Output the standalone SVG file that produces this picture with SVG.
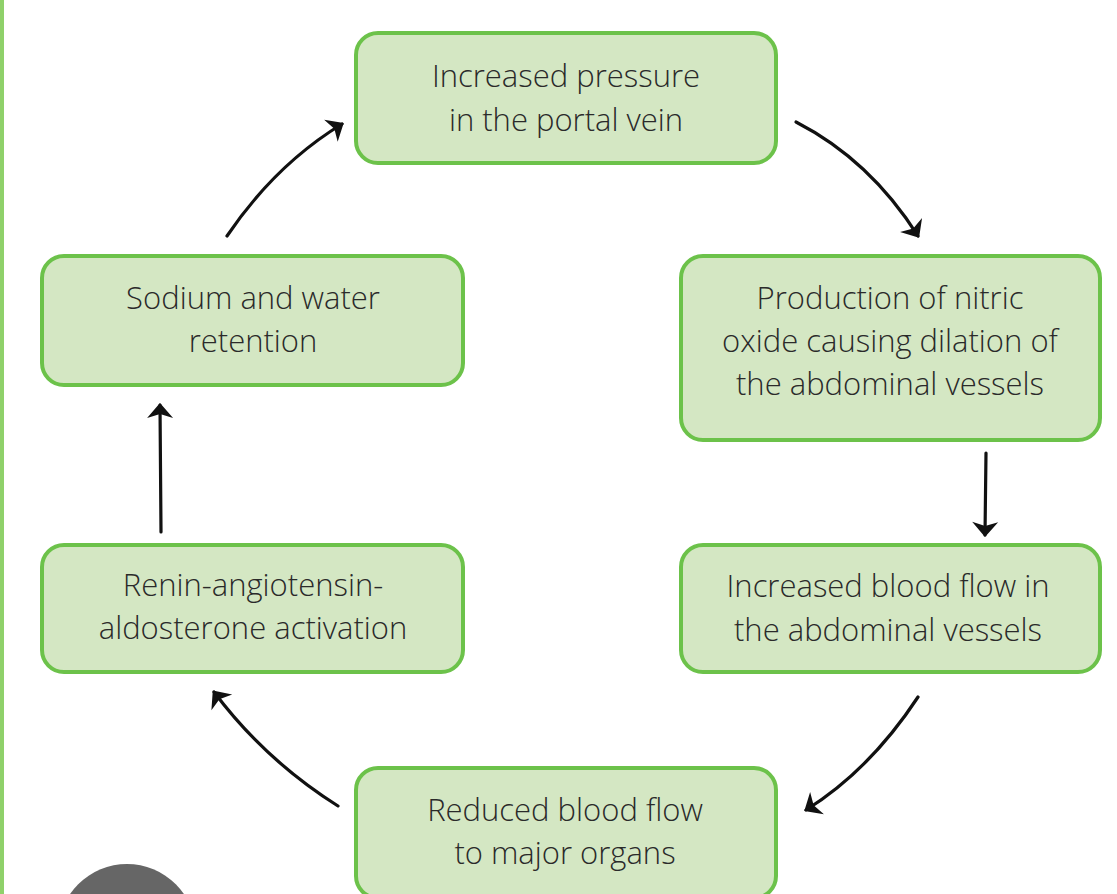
<svg xmlns="http://www.w3.org/2000/svg" width="1117" height="894" viewBox="0 0 1117 894">
<style>
.box{fill:#d4e7c3;stroke:#6cc24a;stroke-width:4}
.t{font-family:"Open Sans","Liberation Sans",sans-serif;font-size:31px;fill:#2a2a2a;text-anchor:middle;font-weight:300}
.c{fill:none;stroke:#111;stroke-width:3.2;stroke-linecap:round}
</style>
<defs>
<marker id="a" viewBox="0 0 24 28" refX="17" refY="14" markerWidth="24" markerHeight="28" markerUnits="userSpaceOnUse" orient="auto">
<path d="M4,1 L19,14 L4,27 L8,14 Z" fill="#111"/>
</marker>
</defs>
<rect x="0" y="0" width="4" height="894" fill="#8fd16a"/>
<circle cx="127" cy="933" r="69" fill="#666"/>
<g id="n1"><rect class="box" x="356" y="33" width="420" height="130" rx="22"/>
<text class="t" x="566" y="87">Increased pressure</text><text class="t" x="566" y="131">in the portal vein</text></g>
<g id="n2"><rect class="box" x="681" y="256" width="419" height="184" rx="22"/>
<text class="t" x="890" y="309">Production of nitric</text><text class="t" x="890" y="352">oxide causing dilation of</text><text class="t" x="890" y="395">the abdominal vessels</text></g>
<g id="n3"><rect class="box" x="681" y="545" width="419" height="127" rx="22"/>
<text class="t" x="888" y="597">Increased blood flow in</text><text class="t" x="888" y="641">the abdominal vessels</text></g>
<g id="n4"><rect class="box" x="356" y="768" width="420" height="130" rx="22"/>
<text class="t" x="565" y="821">Reduced blood flow</text><text class="t" x="565" y="864">to major organs</text></g>
<g id="n5"><rect class="box" x="42" y="545" width="421" height="127" rx="22"/>
<text class="t" x="253" y="596">Renin-angiotensin-</text><text class="t" x="253" y="639">aldosterone activation</text></g>
<g id="n6"><rect class="box" x="42" y="256" width="421" height="129" rx="22"/>
<text class="t" x="253" y="309">Sodium and water</text><text class="t" x="253" y="352">retention</text></g>
<g id="connectors">
<path class="c" marker-end="url(#a)" d="M796,122 Q870,160 918,236"/>
<path class="c" marker-end="url(#a)" d="M986,453 L985,535"/>
<path class="c" marker-end="url(#a)" d="M918,697 Q870,770 806,810"/>
<path class="c" marker-end="url(#a)" d="M338,806 Q265,760 214,692"/>
<path class="c" marker-end="url(#a)" d="M161,532 L160,405"/>
<path class="c" marker-end="url(#a)" d="M227,236 Q275,165 342,124"/>
</g>
</svg>
